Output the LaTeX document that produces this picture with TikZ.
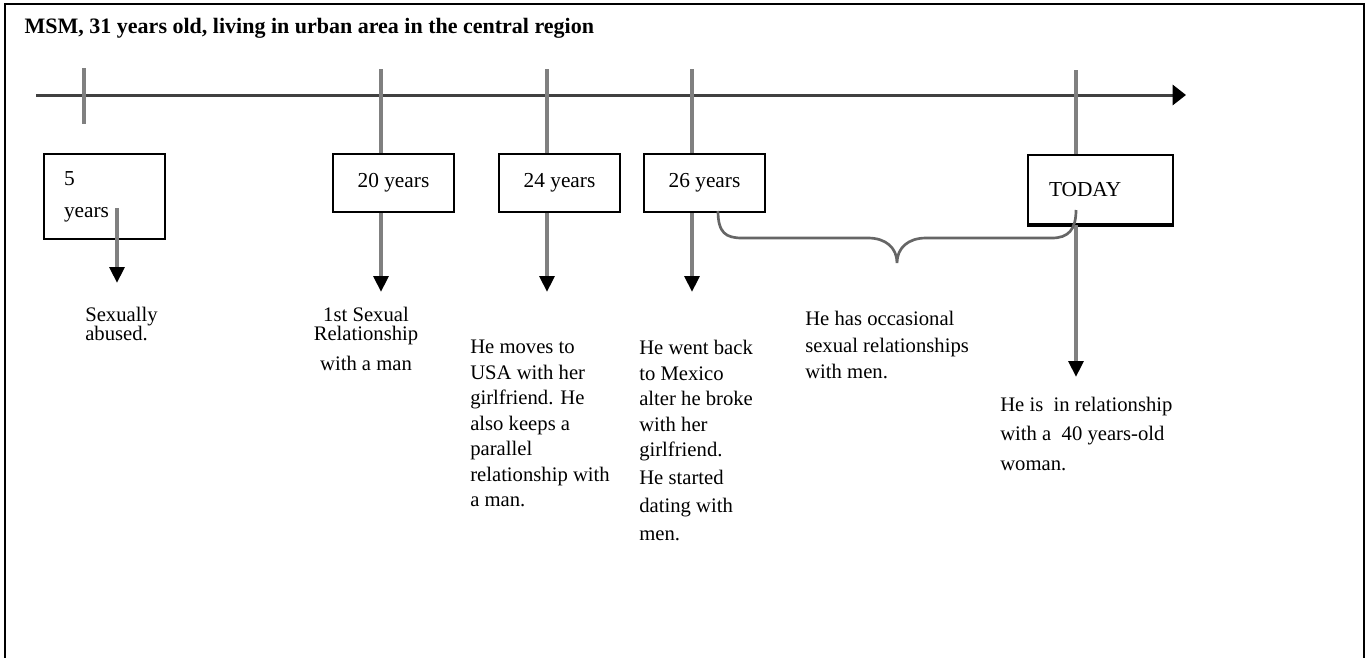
\documentclass[tikz,border=0pt]{standalone}
\usepackage{fontspec}
\setmainfont{Liberation Serif}
\usetikzlibrary{arrows.meta,calc}

\definecolor{stemgray}{HTML}{808080}
\definecolor{axisgray}{HTML}{404040}

\tikzset{
  agebox/.style={draw,line width=1.5pt,fill=white,anchor=north west,inner sep=0pt,
    minimum width=90.75pt,minimum height=43.5pt,font=\fontsize{16}{24}\selectfont},
  eventtext/.style={anchor=north west,inner sep=0pt,align=left},
  stem/.style={draw=stemgray,line width=3pt},
  downarrow/.style={stem,-{Triangle[width=11pt,length=12pt,color=black]}}
}

\begin{document}
\begin{tikzpicture}[x=0.75pt,y=-0.75pt]
\useasboundingbox (0,0) rectangle (1366,657);

% cadre
\draw[line width=2pt] (5,670) -- (5,4) -- (1364,4) -- (1364,670);

% titre
\node[anchor=base west,font=\fontsize{16.5}{18}\selectfont\bfseries] (title) at (20,33)
  {MSM, 31 years old, living in urban area in the central region};

% axe du temps
\coordinate (start) at (36,95);
\coordinate (end) at (1186,95);
\draw[axisgray,line width=2.25pt,-{Triangle[width=15pt,length=10pt,color=black]}] (start) -- (end);
\draw[stem] (84,68) -- (84,124);

% boites des ages
\node[agebox,minimum height=63.75pt,align=left,text width=60.75pt] (b5) at (43,153) {5\\years};
\node[agebox] (b20) at (332,153) {20 years};
\node[agebox] (b24) at (498,153) {24 years};
\node[agebox] (b26) at (643,153) {26 years};
\node[agebox,minimum width=108.75pt,minimum height=51.75pt,align=left,text width=77.25pt] (today) at (1027,154) {TODAY};
\draw[line width=2.5pt] (today.south west) -- (today.south east);

% traits verticaux
\foreach \b/\len in {b20/79,b24/79,b26/79,today/152} {
    \draw[stem] ($(\b.north west)+(49,0)$) -- ++(0,-84);
    \draw[downarrow] ($(\b.south west)+(49,0)$) -- ++(0,\len);
}
\coordinate (s5) at (117,208);
\draw[downarrow] (s5) -- ++(0,75);

% accolade entre 26 ans et aujourd'hui
\coordinate (bl) at ($(b26.south west)+(75,-2)$);
\coordinate (br) at ($(today.south west)+(49,-15)$);
\draw[black!60,line width=2pt] (bl) .. controls +(0,22) and +(-16,0) .. (742,238) -- (868,238)
    .. controls +(18,0) and +(0,-15) .. (897,263) .. controls +(0,-15) and +(-18,0) .. (926,238)
    -- (1052,238) .. controls +(16,0) and +(0,20) .. (br);

% evenements
\node[eventtext,font=\fontsize{15.5}{14.5}\selectfont] (e5) at (85,307) {Sexually\\abused.};
\node[eventtext,align=center,anchor=north,font=\fontsize{15.5}{14.5}\selectfont] (e20) at (366,307)
  {1st Sexual\\Relationship\\[8pt]with a man};
\node[eventtext,font=\fontsize{15.5}{19.1}\selectfont] (e24) at (470,340)
  {He moves to\\USA with her\\girlfriend. He\\also keeps a\\parallel\\relationship with\\a man.};
\node[eventtext,font=\fontsize{15.5}{19.1}\selectfont] (e26) at (639,340)
  {He went back\\to Mexico\\alter he broke\\with her\\girlfriend.\\[2pt]He started\\[2pt]dating with\\[2pt]men.};
\node[eventtext,font=\fontsize{15.5}{20}\selectfont] (eocc) at (805,311)
  {He has occasional\\sexual relationships\\with men.};
\node[eventtext,font=\fontsize{15.5}{22}\selectfont] (etoday) at (1000,397)
  {He is\ \ in relationship\\with a\ \ 40 years-old\\woman.};
\end{tikzpicture}
\end{document}
